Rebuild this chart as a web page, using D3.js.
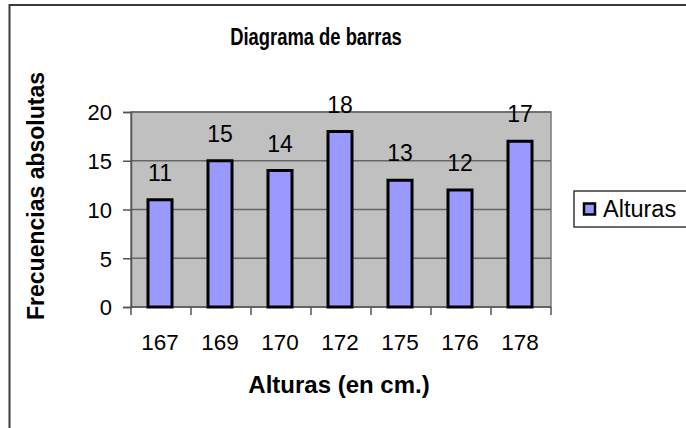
<!DOCTYPE html>
<html>
<head>
<meta charset="utf-8">
<script src="https://cdn.jsdelivr.net/npm/d3@7"></script>
<style>
  html, body { margin: 0; padding: 0; background: #fff; }
  svg { display: block; }
  text { font-family: "Liberation Sans", Arial, sans-serif; fill: #000; }
</style>
</head>
<body>
<svg id="chart" width="686" height="428"></svg>
<script>
const categories = ["167", "169", "170", "172", "175", "176", "178"];
const values = [11, 15, 14, 18, 13, 12, 17];
const yTicks = [0, 5, 10, 15, 20];
const seriesName = "Alturas";
const chartTitle = "Diagrama de barras";
const xTitle = "Alturas (en cm.)";
const yTitle = "Frecuencias absolutas";

const svg = d3.select("#chart");
const W = 686, H = 428;
const plot = { left: 131, right: 551, top: 112, bottom: 307 };

svg.append("rect").attr("width", W).attr("height", H).attr("fill", "#fff");

// outer chart border (extends beyond the visible window)
svg.append("rect")
  .attr("x", 9.5).attr("y", 5).attr("width", 700).attr("height", 440)
  .attr("fill", "none").attr("stroke", "#3a3a3a").attr("stroke-width", 2);

const xb = d3.scaleBand().domain(categories).range([plot.left, plot.right]);
const y = d3.scaleLinear().domain([0, 20]).range([plot.bottom, plot.top]);

// plot area
svg.append("rect")
  .attr("x", plot.left).attr("y", plot.top)
  .attr("width", plot.right - plot.left).attr("height", plot.bottom - plot.top)
  .attr("fill", "#c0c0c0").attr("stroke", "#7a7a7a").attr("stroke-width", 1.5);

// gridlines
svg.append("g").selectAll("line").data(yTicks.filter(d => d > 0)).join("line")
  .attr("x1", plot.left).attr("x2", plot.right)
  .attr("y1", d => y(d)).attr("y2", d => y(d))
  .attr("stroke", "#666").attr("stroke-width", 1.5);

// y axis
const yAxis = d3.axisLeft(y).tickValues(yTicks).tickSize(8).tickPadding(11);
const gy = svg.append("g").attr("transform", `translate(${plot.left},0)`).call(yAxis);
gy.select(".domain").attr("stroke", "#555").attr("stroke-width", 1.5);
gy.selectAll(".tick line").attr("stroke", "#555").attr("stroke-width", 1.5);
gy.selectAll(".tick text").attr("font-size", 22).attr("font-family", "Liberation Sans, Arial, sans-serif").attr("fill", "#000").attr("dy", "0.36em");

// x axis with ticks at band boundaries
const gx = svg.append("g").attr("transform", `translate(0,${plot.bottom})`);
gx.append("line").attr("x1", plot.left).attr("x2", plot.right).attr("y1", 0).attr("y2", 0)
  .attr("stroke", "#555").attr("stroke-width", 1.5);
const bounds = categories.map(c => xb(c)).concat([xb(categories[categories.length - 1]) + xb.bandwidth()]);
gx.selectAll("line.tk").data(bounds).join("line").attr("class", "tk")
  .attr("x1", d => d).attr("x2", d => d).attr("y1", 0).attr("y2", 8)
  .attr("stroke", "#555").attr("stroke-width", 1.5);
gx.selectAll("text").data(categories).join("text")
  .attr("x", d => xb(d) + xb.bandwidth() / 2 - 1)
  .attr("y", 43)
  .attr("text-anchor", "middle").attr("font-size", 22.5)
  .text(d => d);

// bars
const bw = 24;
svg.append("g").selectAll("rect").data(values).join("rect")
  .attr("x", (d, i) => xb(categories[i]) + xb.bandwidth() / 2 - 1 - bw / 2)
  .attr("y", d => y(d))
  .attr("width", bw)
  .attr("height", d => y(0) - y(d))
  .attr("fill", "#9999ff").attr("stroke", "#000").attr("stroke-width", 3);

// data labels
svg.append("g").selectAll("text").data(values).join("text")
  .attr("x", (d, i) => xb(categories[i]) + xb.bandwidth() / 2 - 1)
  .attr("y", d => y(d) - 19)
  .attr("text-anchor", "middle").attr("font-size", 23)
  .text(d => d);

// titles
svg.append("text").attr("transform", "translate(316,45) scale(0.8,1)").attr("text-anchor", "middle")
  .attr("font-size", 23).attr("font-weight", "bold").text(chartTitle);
svg.append("text").attr("x", 339).attr("y", 393).attr("text-anchor", "middle")
  .attr("font-size", 24).attr("font-weight", "bold").text(xTitle);
svg.append("text").attr("transform", `translate(44,196) rotate(-90)`)
  .attr("text-anchor", "middle").attr("font-size", 23).attr("font-weight", "bold").text(yTitle);

// legend
const lg = svg.append("g");
lg.append("rect").attr("x", 574).attr("y", 191).attr("width", 130).attr("height", 36)
  .attr("fill", "#fff").attr("stroke", "#3a3a3a").attr("stroke-width", 1.5);
lg.append("rect").attr("x", 584).attr("y", 203.5).attr("width", 11).attr("height", 11)
  .attr("fill", "#9999ff").attr("stroke", "#000").attr("stroke-width", 2.5);
lg.append("text").attr("x", 603).attr("y", 217).attr("font-size", 23.5).text(seriesName);
</script>
</body>
</html>
